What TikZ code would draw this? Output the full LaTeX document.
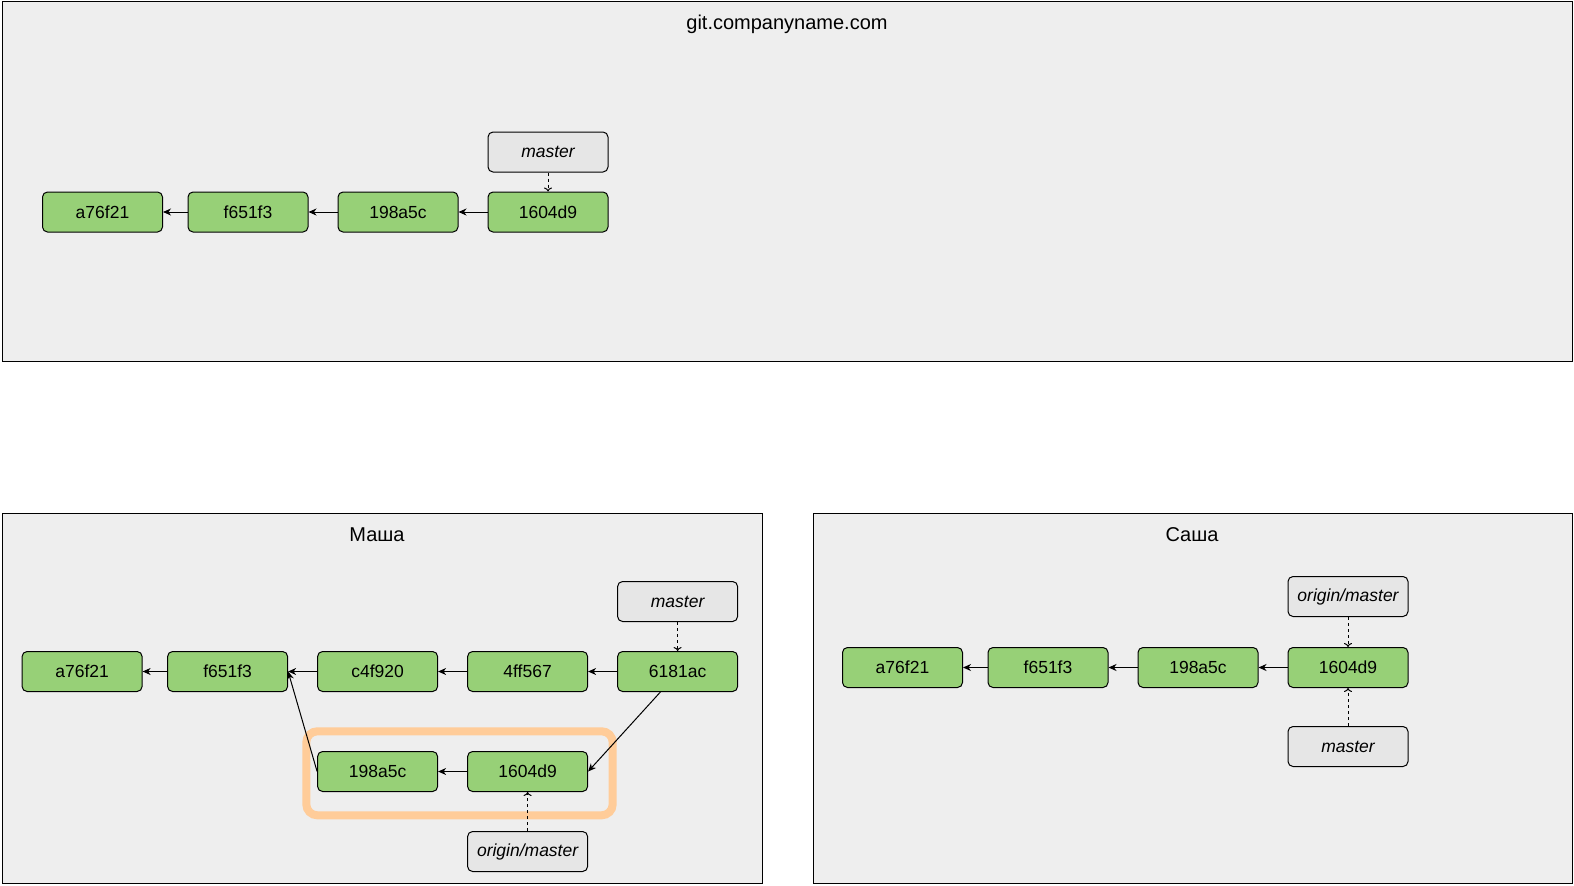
\documentclass[tikz,border=0pt]{standalone}
\usepackage{fontspec}
\setmainfont{Liberation Sans}
\usetikzlibrary{arrows.meta,calc}
\definecolor{panelgray}{HTML}{EEEEEE}
\definecolor{commitgreen}{HTML}{97D077}
\definecolor{refgray}{HTML}{E6E6E6}
\definecolor{stashorange}{HTML}{FFCC99}

\begin{document}
\begin{tikzpicture}[x=1pt,y=-1pt,->,>={Stealth[length=8pt,width=7pt,inset=2.5pt]},
                    line width=1pt,node distance=150pt,
                    font=\fontsize{17.5}{21}\selectfont]
  \tikzstyle{commit}=[draw, rounded corners=5pt, fill=commitgreen, minimum width=120pt,
                      minimum height=40pt, inner sep=0pt]
  \tikzstyle{ref}=[commit, fill=refgray, font=\fontsize{17.5}{21}\selectfont\itshape]
  \tikzstyle{repo}=[-, draw, fill=panelgray]
  \tikzstyle{pointer}=[-{To[length=4pt,width=8pt]}, dash pattern=on 3pt off 3pt]
  \tikzstyle{title}=[font=\fontsize{20}{24}\selectfont]

  \useasboundingbox (0,0) rectangle (1574,886);
  \draw[repo] (2.3,1.3) rectangle (1572.3,361);
  \draw[repo] (2.3,513) rectangle (762.5,883);
  \draw[repo] (813.5,513) rectangle (1572.3,883);

  \node[title] (server) at (787,24) {git.companyname.com};
  \node[title] (masha) at (377,534.5) {Маша};
  \node[title] (sasha) at (1192,534.5) {Саша};

  \draw[-, stashorange, line width=8pt, rounded corners=11pt] (306.3,731.3) rectangle (612.7,815.3);

  % server
  \node[commit] (t1604d9) at (548,212)               {1604d9};
  \node[commit] (t198a5c) [left of = t1604d9]        {198a5c};
  \node[commit] (tf651f3) [left of = t198a5c]        {f651f3};
  \node[commit] (ta76f21) [left of = tf651f3, node distance=145.5pt] {a76f21};
  \node[ref]    (tmaster) [above of = t1604d9, node distance=60pt] {master};

  % masha
  \node[commit] (m6181ac) at (677.6,671.5)           {6181ac};
  \node[commit] (m4ff567) [left of = m6181ac]        {4ff567};
  \node[commit] (mc4f920) [left of = m4ff567]        {c4f920};
  \node[commit] (mf651f3) [left of = mc4f920]        {f651f3};
  \node[commit] (ma76f21) [left of = mf651f3, node distance=145.5pt] {a76f21};
  \node[commit] (m1604d9) [below of = m4ff567, node distance=100pt] {1604d9};
  \node[commit] (m198a5c) [left of = m1604d9]        {198a5c};
  \node[ref]    (mmaster) [above of = m6181ac, node distance=70pt] {master};
  \node[ref]    (morigin) [below of = m1604d9, node distance=80pt] {origin/master};

  % sasha
  \node[commit] (s1604d9) at (1348,667.5)            {1604d9};
  \node[commit] (s198a5c) [left of = s1604d9]        {198a5c};
  \node[commit] (sf651f3) [left of = s198a5c]        {f651f3};
  \node[commit] (sa76f21) [left of = sf651f3, node distance=145.5pt] {a76f21};
  \node[ref]    (sorigin) [above of = s1604d9, node distance=71pt] {origin/master};
  \node[ref]    (smaster) [below of = s1604d9, node distance=79pt] {master};

  \path (t1604d9) edge (t198a5c)
        (t198a5c) edge (tf651f3)
        (tf651f3) edge (ta76f21)
        (tmaster) edge [pointer] (t1604d9);

  \path (m6181ac) edge (m4ff567)
        (m4ff567) edge (mc4f920)
        (mc4f920) edge (mf651f3)
        (mf651f3) edge (ma76f21)
        (m1604d9) edge (m198a5c)
        (m198a5c.west) edge (mf651f3.east)
        (m6181ac.230) edge (m1604d9.east)
        (mmaster) edge [pointer] (m6181ac)
        (morigin) edge [pointer] (m1604d9);

  \path (s1604d9) edge (s198a5c)
        (s198a5c) edge (sf651f3)
        (sf651f3) edge (sa76f21)
        (sorigin) edge [pointer] (s1604d9)
        (smaster) edge [pointer] (s1604d9);
\end{tikzpicture}
\end{document}
